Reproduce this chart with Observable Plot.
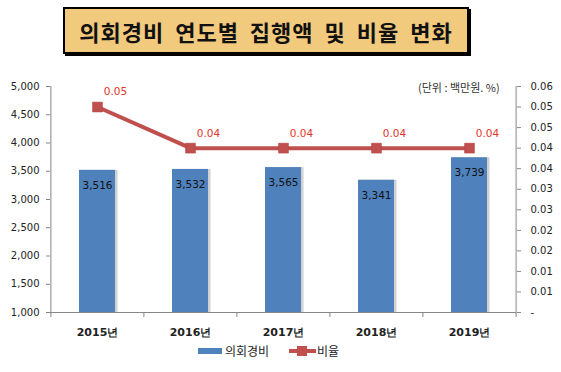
<!DOCTYPE html>
<html><head><meta charset="utf-8">
<script src="https://cdn.jsdelivr.net/npm/d3@7"></script>
<script src="https://cdn.jsdelivr.net/npm/@observablehq/plot@0.6"></script>
<style>
body{margin:0;background:#fff;}
#wrap{position:relative;width:561px;height:372px;overflow:hidden;font-family:"DejaVu Sans",sans-serif;}
#chart{position:absolute;left:0;top:0;}
#title{position:absolute;left:63px;top:7px;width:402px;height:43px;background:#f2ca7e;border:2px solid #000;box-shadow:2px 2px 0 #000;display:flex;align-items:center;justify-content:center;font-family:"Noto Sans CJK KR",sans-serif;font-size:22px;font-weight:bold;letter-spacing:1px;word-spacing:5px;color:#111;}
#unit{position:absolute;left:418px;top:79px;font-family:"Noto Sans CJK KR",sans-serif;font-size:11px;color:#333;white-space:nowrap;}
.lg{position:absolute;}
.lgtext{position:absolute;top:342px;font-family:"Noto Sans CJK KR",sans-serif;font-size:12px;color:#222;white-space:nowrap;}
</style></head>
<body>
<div id="wrap">
  <div id="chart"></div>
  <div id="title"></div>
  <div id="unit"></div>
  <div class="lg" style="left:198px;top:348px;width:24px;height:6px;background:#4f81bd"></div>
  <div class="lgtext" id="lg0" style="left:225px"></div>
  <div class="lg" style="left:289px;top:349px;width:27px;height:4px;background:#c0504d"></div>
  <div class="lg" style="left:297px;top:346px;width:10px;height:10px;background:#c0504d"></div>
  <div class="lgtext" id="lg1" style="left:317px"></div>
</div>
<script>
const titleText = "의회경비 연도별 집행액 및 비율 변화";
const unitText = "(단위 : 백만원. %)";
const seriesNames = ["의회경비", "비율"];
const years = ["2015년", "2016년", "2017년", "2018년", "2019년"];
const expenses = [3516, 3532, 3565, 3341, 3739];
const rates = [0.05, 0.04, 0.04, 0.04, 0.04];
const rateLabels = ["0.05", "0.04", "0.04", "0.04", "0.04"];
const leftTicks = [1000, 1500, 2000, 2500, 3000, 3500, 4000, 4500, 5000];
const rateTicks = [0, 0.005, 0.01, 0.015, 0.02, 0.025, 0.03, 0.035, 0.04, 0.045, 0.05, 0.055];
const rateTickLabels = ["-", "0.01", "0.01", "0.02", "0.02", "0.03", "0.03", "0.04", "0.04", "0.05", "0.05", "0.06"];

document.getElementById("title").textContent = titleText;
document.getElementById("unit").textContent = unitText;
document.getElementById("lg0").textContent = seriesNames[0];
document.getElementById("lg1").textContent = seriesNames[1];

const yMin = 1000, yMax = 5000, rMin = 0, rMax = 0.055;
const toY = r => yMin + (r - rMin) / (rMax - rMin) * (yMax - yMin);
const data = years.map((year, i) => ({year, value: expenses[i], rateY: toY(rates[i]), rateLabel: rateLabels[i]}));
const rateTickPos = rateTicks.map(toY);
const rateLabelAt = new Map(rateTickPos.map((p, i) => [p, rateTickLabels[i]]));

const W = 561, H = 372, mL = 50, mR = 45;
const step = (W - mL - mR) / years.length;
const axisColor = "#868686";

const chart = Plot.plot({
  width: W, height: H,
  marginTop: 86, marginBottom: 60, marginLeft: mL, marginRight: mR,
  style: {fontFamily: "DejaVu Sans", fontSize: "10px", color: "#222", background: "transparent", overflow: "visible"},
  x: {domain: years, paddingInner: 0.61, paddingOuter: 0.305, axis: null, label: null},
  y: {domain: [yMin, yMax], axis: null, label: null},
  marks: [
    Plot.barY(data, {x: "year", y1: yMin, y2: "value", fill: "#d0d0d0", dx: 2.5}),
    Plot.barY(data, {x: "year", y1: yMin, y2: "value", fill: "#4f81bd"}),
    Plot.ruleY([yMin], {stroke: axisColor}),
    Plot.ruleX([years[0]], {dx: -step / 2, stroke: axisColor}),
    Plot.ruleX([years[years.length - 1]], {dx: step / 2, stroke: axisColor}),
    Plot.ruleX(years, {x: d => d, dx: -step / 2, y1: yMin, y2: yMin, insetBottom: -5, stroke: axisColor}),
    Plot.ruleX([years[years.length - 1]], {x: d => d, dx: step / 2, y1: yMin, y2: yMin, insetBottom: -5, stroke: axisColor}),
    Plot.axisX({tickSize: 0, tickPadding: 16, fontWeight: "bold", fontSize: 11, label: null}),
    Plot.axisY({ticks: leftTicks, tickFormat: d3.format(","), anchor: "left", tickSize: 4, tickPadding: 7, stroke: axisColor, label: null}),
    Plot.axisY({ticks: rateTickPos, tickFormat: d => rateLabelAt.get(d), anchor: "right", tickSize: 4, tickPadding: 10, stroke: axisColor, label: null}),
    Plot.lineY(data, {x: "year", y: "rateY", stroke: "#c0504d", strokeWidth: 4}),
    Plot.dot(data, {x: "year", y: "rateY", symbol: "square", r: 5.6, fill: "#c0504d", stroke: "#b04541", strokeWidth: 0.5}),
    Plot.text(data, {x: "year", y: "value", dy: 15, text: d => d3.format(",")(d.value), fill: "#111", fontSize: 10.5}),
    Plot.text(data, {x: "year", y: "rateY", dx: 18, dy: -15, text: "rateLabel", fill: "#e3362b", fontSize: 10.5})
  ]
});
document.getElementById("chart").appendChild(chart);
</script>
</body></html>
